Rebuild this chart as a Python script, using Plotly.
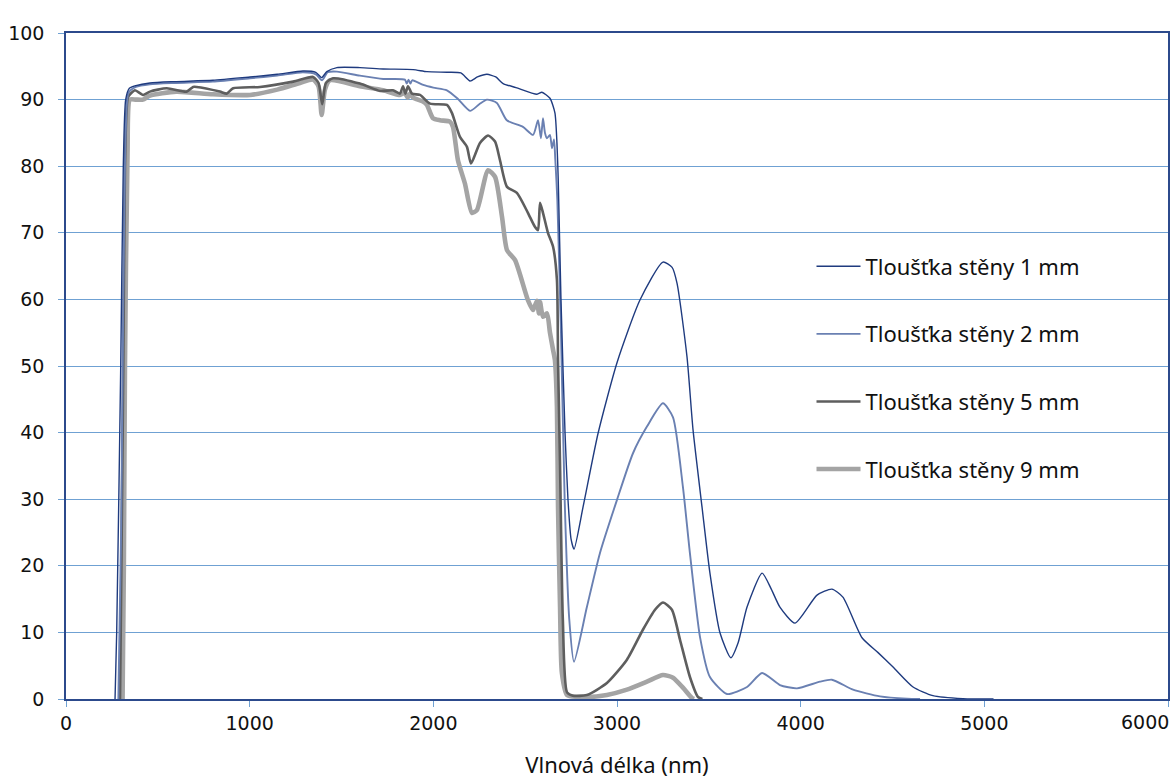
import plotly.graph_objects as go

# ---------------- data ----------------
x_1mm = [267, 276, 298, 312, 325, 345, 380, 457, 600, 800, 1002, 1150, 1290, 1360, 1392, 1420, 1475,
         1600, 1727, 1890, 1965, 2074, 2150, 2200, 2240, 2292, 2340, 2380, 2450, 2564, 2591, 2635,
         2662, 2673, 2680, 2695, 2717, 2733, 2750, 2766, 2815, 2897, 3000, 3125, 3250, 3300, 3327,
         3381, 3414, 3463, 3506, 3561, 3620, 3660, 3708, 3790, 3840, 3887, 3969, 4089, 4170, 4230,
         4334, 4420, 4503, 4612, 4720, 4884, 5050]
y_1mm = [0, 10, 50, 80, 90, 91.7, 92.1, 92.5, 92.7, 92.9, 93.4, 93.8, 94.3, 94.1, 93.3, 94.2, 94.8,
         94.8, 94.6, 94.5, 94.2, 94.1, 94.0, 92.8, 93.4, 93.8, 93.4, 92.4, 91.8, 90.8, 91.1, 90.2,
         88, 83.5, 78, 60, 40, 30, 24, 22.5, 28.8, 39.9, 50.5, 59.9, 65.6, 64.8, 62.4,
         51.4, 40.4, 28.8, 18.9, 9.9, 6.2, 8.5, 13.8, 18.9, 16.5, 13.8, 11.4, 15.6, 16.5, 15.3,
         9.2, 7.0, 4.8, 1.8, 0.5, 0.05, 0]

x_2mm = [285, 300, 312, 325, 340, 380, 457, 600, 800, 1002, 1150, 1290, 1360, 1394, 1425, 1475,
         1600, 1727, 1845, 1855, 1865, 1875, 1885, 1945, 2000, 2074, 2130, 2200, 2250, 2292, 2346,
         2400, 2488, 2543, 2570, 2586, 2597, 2608, 2619, 2635, 2646, 2657, 2664, 2675, 2695, 2715,
         2740, 2766, 2836, 2907, 3000, 3087, 3163, 3250, 3305, 3359, 3397, 3452, 3506, 3599, 3708,
         3790, 3887, 3980, 4105, 4170, 4285, 4432, 4579, 4650]
y_2mm = [0, 25, 60, 85, 91.0, 91.9, 92.3, 92.5, 92.7, 93.2, 93.6, 94.1, 93.8, 92.9, 94.1, 94.2,
         93.6, 93.1, 93.0, 92.4, 93.0, 92.4, 92.9, 92.2, 91.8, 91.4, 90.2, 88.3, 89.3, 90.0, 89.5,
         86.9, 85.9, 84.7, 86.9, 84.2, 87.2, 85.0, 84.2, 84.7, 82.7, 84.0, 81, 75, 55, 30,
         12, 5.6, 13.8, 21.9, 29.9, 36.9, 40.9, 44.4, 42.3, 31.8, 21.9, 9.3, 3.3, 0.75, 1.8,
         3.9, 2.1, 1.6, 2.6, 2.9, 1.4, 0.4, 0.05, 0]

x_5mm = [294, 298, 312, 321, 330, 338, 375, 419, 457, 548, 657, 692, 711, 838, 875, 910, 1056, 1237,
         1345, 1375, 1395, 1415, 1454, 1600, 1710, 1780, 1818, 1835, 1848, 1862, 1884, 1927, 1982,
         2074, 2101, 2145, 2183, 2205, 2254, 2298, 2336, 2363, 2401, 2455, 2515, 2553, 2570, 2581,
         2597, 2624, 2652, 2673, 2679, 2690, 2705, 2728, 2760, 2836, 2945, 3054, 3141, 3207, 3250,
         3299, 3343, 3397, 3441, 3465]
y_5mm = [0, 10, 50, 80, 88.5, 90.4, 91.4, 90.7, 91.2, 91.7, 91.2, 91.9, 91.9, 91.2, 90.9, 91.7, 91.9, 92.7,
         93.4, 92.5, 89.3, 92.5, 93.2, 92.4, 91.3, 91.4, 90.9, 92.0, 90.9, 92.0, 90.9, 90.7, 89.4,
         89.2, 88.0, 84.4, 82.9, 80.4, 83.5, 84.6, 83.7, 80.9, 76.9, 76.0, 73.0, 70.9, 70.4, 74.5,
         73.0, 70.0, 67.9, 62.9, 50.9, 35, 12, 1.0, 0.5, 0.6, 2.4, 5.9, 10.4, 13.4, 14.5,
         13.4, 8.9, 3.3, 0.3, 0]

x_9mm = [308, 315, 321, 335, 348, 380, 419, 457, 600, 800, 1002, 1150, 1274, 1345, 1375, 1392, 1410,
         1437, 1600, 1727, 1818, 1845, 1860, 1873, 1890, 1944, 1965, 1998, 2036, 2090, 2107, 2134,
         2172, 2210, 2237, 2298, 2336, 2374, 2401, 2445, 2515, 2543, 2564, 2575, 2581, 2597, 2619,
         2635, 2652, 2662, 2673, 2679, 2690, 2700, 2728, 2836, 2945, 3054, 3163, 3250, 3305, 3359,
         3408, 3420]
y_9mm = [0, 20, 50, 82, 90, 90.0, 90.0, 90.6, 91.2, 90.8, 90.7, 91.5, 92.5, 93.0, 92.0, 87.7, 91.5,
         92.9, 92.0, 91.4, 90.7, 91.0, 90.3, 90.9, 90.3, 89.7, 89.2, 87.2, 86.9, 86.7, 85.9, 80.9,
         77.4, 73.0, 73.4, 79.4, 78.4, 72.4, 67.4, 65.9, 59.9, 58.4, 59.8, 57.9, 59.6, 57.4, 57.9,
         55.0, 52.4, 50.9, 43.9, 28.8, 13.8, 3.9, 0.6, 0.3, 0.6, 1.4, 2.6, 3.6, 3.2, 1.7,
         0.15, 0]

names = ["Tloušťka stěny 1 mm", "Tloušťka stěny 2 mm", "Tloušťka stěny 5 mm", "Tloušťka stěny 9 mm"]
x_ticks = [0, 1000, 2000, 3000, 4000, 5000, 6000]
y_ticks = [0, 10, 20, 30, 40, 50, 60, 70, 80, 90, 100]
x_title = "Vlnová délka (nm)"

# ---------------- styling ----------------
colors = ["#1f3b7f", "#6a80b2", "#5e5e5e", "#a4a4a4"]
widths = [1.4, 1.9, 2.6, 4.6]
series = [(x_1mm, y_1mm), (x_2mm, y_2mm), (x_5mm, y_5mm), (x_9mm, y_9mm)]

fig = go.Figure()
# draw thickest first so thin lines sit on top
for i in [3, 2, 1, 0]:
    xs, ys = series[i]
    fig.add_trace(go.Scatter(
        x=xs, y=ys, mode="lines", name=names[i],
        line=dict(color=colors[i], width=widths[i], shape="spline", smoothing=0.6),
        legendgroup=f"g{i}", legendrank=i + 1,
    ))

grid_col = "#6fa1d3"
frame_col = "#2c4a8c"
tick_font = dict(family="DejaVu Sans", size=19, color="#111111")

# last x tick label sits at the right edge; draw it right-aligned so it stays inside the page
x_ticktext = [str(v) for v in x_ticks[:-1]] + [""]
fig.add_annotation(x=x_ticks[-1], y=0, xref="x", yref="paper", text=str(x_ticks[-1]),
                   showarrow=False, xanchor="right", yanchor="middle", xshift=3, yshift=-23,
                   font=tick_font)

fig.update_layout(
    width=1172, height=779,
    margin=dict(l=66, r=4, t=33, b=80, autoexpand=False),
    paper_bgcolor="white", plot_bgcolor="white",
    showlegend=True,
    legend=dict(x=0.6765, y=0.681, xanchor="left", yanchor="top",
                font=dict(family="Noto Sans", size=22, color="#111111"),
                tracegroupgap=36, itemwidth=44, bgcolor="rgba(0,0,0,0)"),
    xaxis=dict(range=[0, 6000], tickvals=x_ticks, ticktext=x_ticktext,
               showgrid=False, zeroline=False, automargin=False,
               showline=True, linecolor=frame_col, linewidth=1.5, mirror=True,
               ticks="outside", ticklen=6, tickcolor=grid_col, tickwidth=1.2,
               tickfont=tick_font, ticklabeloverflow="allow",
               title=dict(text=x_title, font=dict(family="Noto Sans", size=22, color="#111111"),
                          standoff=31)),
    yaxis=dict(range=[0, 100], tickvals=y_ticks, ticktext=[str(v) for v in y_ticks],
               showgrid=True, gridcolor=grid_col, gridwidth=1.2, zeroline=False, automargin=False,
               showline=True, linecolor=frame_col, linewidth=1.5, mirror=True,
               ticks="outside", ticklen=6, tickcolor=grid_col, tickwidth=1.2,
               tickfont=tick_font, ticklabelstandoff=10, ticklabeloverflow="allow"),
)

fig.write_html("out.html", config={"displayModeBar": False},
               post_script="document.body.style.margin='0';document.body.style.overflow='hidden';")
